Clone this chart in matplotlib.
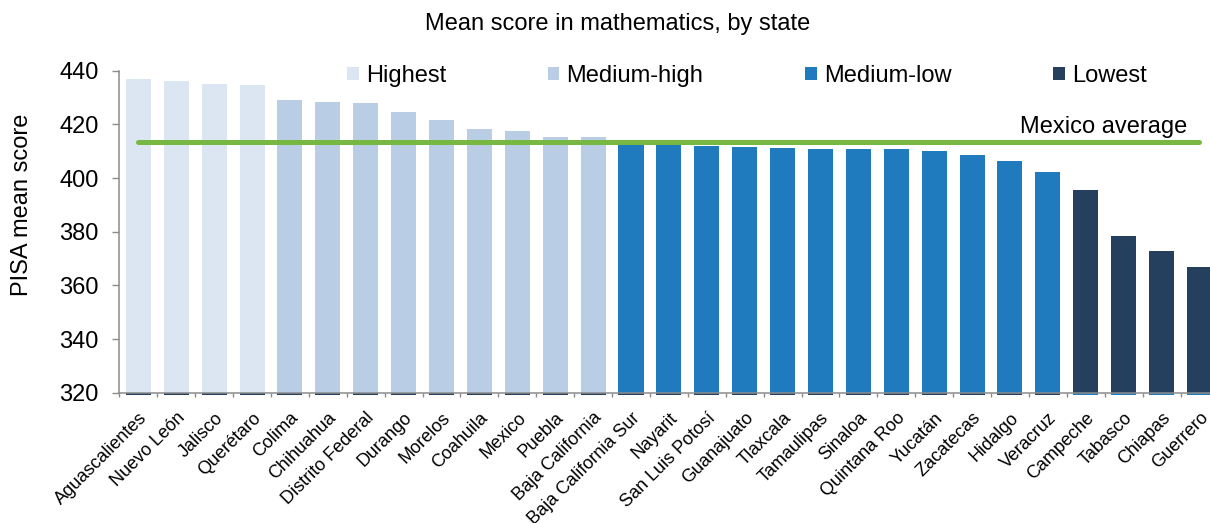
import matplotlib.pyplot as plt
import numpy as np


states = ['Aguascalientes', 'Nuevo León', 'Jalisco', 'Querétaro', 'Colima',
          'Chihuahua', 'Distrito Federal', 'Durango', 'Morelos', 'Coahuila',
          'Mexico', 'Puebla', 'Baja California', 'Baja California Sur',
          'Nayarit', 'San Luis Potosí', 'Guanajuato', 'Tlaxcala', 'Tamaulipas',
          'Sinaloa', 'Quintana Roo', 'Yucatán', 'Zacatecas', 'Hidalgo',
          'Veracruz', 'Campeche', 'Tabasco', 'Chiapas', 'Guerrero']

scores = [437.0, 436.0, 434.9, 434.5, 429.2, 428.3, 428.0, 424.6, 421.5,
          418.4, 417.5, 415.3, 415.3, 413.0, 412.4, 411.9, 411.7, 411.2,
          410.9, 410.9, 410.7, 410.1, 408.6, 406.5, 402.3, 395.5, 378.4,
          372.9, 366.8]

tiers = ['Highest', 'Medium-high', 'Medium-low', 'Lowest']
tier_counts = [4, 9, 12, 4]
mexico_avg = 413.3

colors = ['#dce6f2', '#b9cde5', '#1f7bbd', '#253f5f']
stripe_colors = ['#253f5f', '#253f5f', '#253f5f', '#1f7bbd']

plt.rcParams['font.family'] = ['Liberation Sans', 'DejaVu Sans']

W, H = 1210, 523
fig = plt.figure(figsize=(W / 100, H / 100), dpi=100)
ax = fig.add_axes([119.4 / W, 1 - 392.7 / H, 1099 / W, 322 / H])

n = len(states)
x = np.arange(n)
scores = np.array(scores)

bar_width = 0.66
handles = []
start = 0
for tier, count, c, sc in zip(tiers, tier_counts, colors, stripe_colors):
    idx = x[start:start + count]
    b = ax.bar(idx, scores[idx] - 320, bottom=320, width=bar_width,
               color=c, label=tier, zorder=2)
    # thin strip under the axis line, as in the original chart
    ax.bar(idx, -0.9, bottom=320, width=bar_width, color=sc,
           clip_on=False, zorder=1)
    handles.append(b)
    start += count

ax.plot(x, np.full(n, mexico_avg), color='#77b843', lw=3.6,
        solid_capstyle='round', zorder=3)
ax.text(27.67, 419.2, 'Mexico average', ha='right', va='center', fontsize=17)

ax.set_xlim(-0.5, n - 0.5)
ax.set_ylim(320, 440)

for s in ['top', 'right']:
    ax.spines[s].set_visible(False)
for s in ['left', 'bottom']:
    ax.spines[s].set_color('#8c8c8c')
    ax.spines[s].set_linewidth(1.1)

ax.set_yticks(np.arange(320, 441, 20))
ax.tick_params(axis='y', direction='out', length=5, width=1.0,
               color='#8c8c8c', pad=10, labelsize=17)

ax.set_xticks(np.arange(-0.5, n), labels=[])
ax.tick_params(axis='x', which='major', direction='out', length=3,
               width=1.0, color='#8c8c8c')
ax.set_xticks(x, minor=True)
ax.set_xticklabels(states, minor=True, rotation=45, ha='right', va='top',
                   rotation_mode='anchor', fontsize=13)
ax.tick_params(axis='x', which='minor', length=0, pad=12)

ax.set_ylabel('PISA mean score', fontsize=17, va='center')
ax.yaxis.set_label_coords(-0.0886, 0.584)

fig.suptitle('Mean score in mathematics, by state', fontsize=17,
             x=617.5 / W, y=1 - 24 / H, va='center')

fig.legend(handles=handles, labels=tiers, loc='center left',
           bbox_to_anchor=(347 / W, 1 - 76 / H), ncol=4, frameon=False,
           fontsize=17, handlelength=0.5, handleheight=0.5,
           handletextpad=0.3, columnspacing=4.3, borderpad=0,
           borderaxespad=0)

fig.savefig('out.png', dpi=100)
